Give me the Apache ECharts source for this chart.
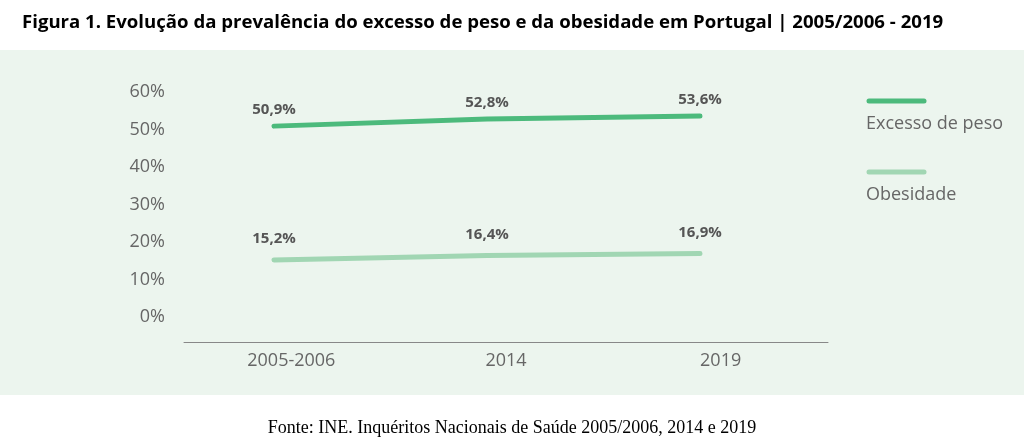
<!DOCTYPE html>
<html><head><meta charset="utf-8">
<script src="https://cdn.jsdelivr.net/npm/echarts@6/dist/echarts.min.js"></script>
<style>html,body{margin:0;padding:0;background:#fff}#c{width:1024px;height:442px}</style>
</head><body><div id="c"></div>
<script>
const titleText = 'Figura 1. Evolução da prevalência do excesso de peso e da obesidade em Portugal | 2005/2006 - 2019';
const sourceText = 'Fonte: INE. Inquéritos Nacionais de Saúde 2005/2006, 2014 e 2019';
const categories = ['2005-2006', '2014', '2019'];
const seriesNames = ['Excesso de peso', 'Obesidade'];
const excessoPeso = [50.9, 52.8, 53.6];
const obesidade = [15.2, 16.4, 16.9];
const yTicks = [0, 10, 20, 30, 40, 50, 60];

const colors = ['#4cba7c', '#a1d6b3'];
const fmt = v => v.toFixed(1).replace('.', ',') + '%';
const chart = echarts.init(document.getElementById('c'), null, {renderer: 'canvas'});
const toPts = arr => arr.map((v, i) => [i, v]);

function mkSeries(name, data, color, dist) {
  return {
    name, type: 'line', xAxisIndex: 1, data: toPts(data),
    symbol: 'circle', symbolSize: 1, itemStyle: {color},
    lineStyle: {color, width: 5, cap: 'round', join: 'round'},
    label: {show: true, position: 'top', distance: dist, formatter: p => fmt(p.value[1]),
      fontFamily: 'Open Sans', fontWeight: 'bold', fontSize: 15, color: '#555'},
    emphasis: {disabled: true}, animation: false
  };
}

chart.setOption({
  backgroundColor: '#fff',
  animation: false,
  title: [
    {text: titleText, left: 17, top: 8, textStyle: {fontFamily: 'Open Sans', fontWeight: 'bold', fontSize: 18.6, color: '#000'}},
    {text: sourceText, left: 'center', top: 414, textStyle: {fontFamily: 'Liberation Serif', fontWeight: 'normal', fontSize: 18, color: '#000'}}
  ],
  graphic: [
    {type: 'rect', z: -10, shape: {x: 0, y: 50, width: 1024, height: 345}, style: {fill: '#ecf5ee'}},
    {type: 'line', shape: {x1: 869, y1: 101, x2: 924, y2: 101}, style: {stroke: colors[0], lineWidth: 5, lineCap: 'round'}},
    {type: 'text', left: 866, top: 115, style: {text: seriesNames[0], font: '18px "Open Sans"', fill: '#666'}},
    {type: 'line', shape: {x1: 869, y1: 172, x2: 924, y2: 172}, style: {stroke: colors[1], lineWidth: 5, lineCap: 'round'}},
    {type: 'text', left: 866, top: 186, style: {text: seriesNames[1], font: '18px "Open Sans"', fill: '#666'}}
  ],
  grid: {left: 184, right: 196, top: 92, bottom: 100},
  xAxis: [
    {type: 'category', data: categories, boundaryGap: true,
      axisLine: {onZero: false, lineStyle: {color: '#888', width: 1}}, axisTick: {show: false},
      axisLabel: {margin: 10, fontFamily: 'Open Sans', fontSize: 18, color: '#666'}},
    {type: 'value', min: -0.4225, max: 2.601, show: false}
  ],
  yAxis: {
    type: 'value', min: -6.667, max: 60,
    axisLine: {show: false}, axisTick: {show: false}, splitLine: {show: false},
    axisLabel: {customValues: yTicks, formatter: v => v + '%', margin: 19, fontFamily: 'Open Sans', fontSize: 18, color: '#666'}
  },
  series: [
    mkSeries(seriesNames[0], excessoPeso, colors[0], 8),
    mkSeries(seriesNames[1], obesidade, colors[1], 13)
  ]
});
</script></body></html>
